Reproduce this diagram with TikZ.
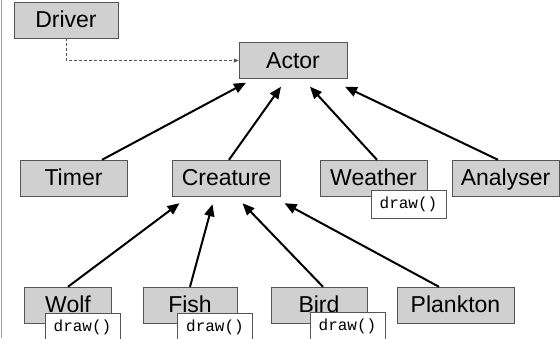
\documentclass[tikz,border=0pt]{standalone}
\usepackage{fontspec}
\setmainfont{Liberation Sans}
\setmonofont{Liberation Mono}
\usetikzlibrary{arrows.meta}
\definecolor{clsFill}{HTML}{D0D0D0}
\definecolor{clsEdge}{HTML}{555555}
\definecolor{frameGray}{HTML}{A0A0A0}

\begin{document}
\begin{tikzpicture}[x=1pt, y=-1pt,
    cls/.style={draw=clsEdge, fill=clsFill, minimum height=36pt, inner sep=0pt, text height=17pt, text depth=2pt, font=\fontsize{23}{26}\selectfont},
    meth/.style={draw=clsEdge, fill=white, minimum width=75pt, minimum height=28pt, inner sep=0pt, font=\ttfamily\fontsize{16}{18}\selectfont},
    inherit/.style={-{Triangle[length=12pt, width=10pt]}, line width=2pt},
    uses/.style={-{Triangle[length=5pt, width=4pt]}, dash pattern=on 3pt off 2pt, draw=clsEdge, line width=0.8pt}]
  \useasboundingbox (0,0) rectangle (560,338);
  \clip (0,0) rectangle (560,338);
  \draw[frameGray, line width=1.5pt] (1.5,0) -- (1.5,338);

  % classes
  \node[cls, minimum width=104pt] (driver) at (66,20) {Driver};
  \node[cls, minimum width=108pt] (actor) at (293,60.5) {Actor};
  \node[cls, minimum width=107pt] (timer) at (73.5,178) {Timer};
  \node[cls, minimum width=108pt] (creature) at (226.5,178) {Creature};
  \node[cls, minimum width=107pt] (weather) at (373.5,178) {Weather};
  \node[cls, minimum width=107pt] (analyser) at (505.5,178) {Analyser};
  \node[cls, minimum width=87pt] (wolf) at (68,305) {Wolf};
  \node[cls, minimum width=94pt] (fish) at (190,305) {Fish};
  \node[cls, minimum width=96pt] (bird) at (319,305) {Bird};
  \node[cls, minimum width=117pt] (plankton) at (455.5,305) {Plankton};

  % overridden methods
  \node[meth] (weatherdraw) at (408.5,204) {draw()};
  \node[meth] (wolfdraw) at (82.5,327) {draw()};
  \node[meth] (fishdraw) at (215,327) {draw()};
  \node[meth] (birddraw) at (347.5,326) {draw()};

  \draw[uses] (driver.south) |- (actor.west);

  \draw[inherit] ([xshift=28.5pt]timer.north) -- ([xshift=-47pt,yshift=-4pt]actor.south);
  \draw[inherit] ([xshift=2.5pt]creature.north) -- ([xshift=-12pt,yshift=-8pt]actor.south);
  \draw[inherit] ([xshift=3.5pt]weather.north) -- ([xshift=17pt,yshift=-8pt]actor.south);
  \draw[inherit] ([xshift=-7.5pt]analyser.north) -- ([xshift=52pt,yshift=-8pt]actor.south);

  \draw[inherit] (wolf.north) -- ([xshift=-47pt,yshift=-7pt]creature.south);
  \draw[inherit] (fish.north) -- ([xshift=-14pt,yshift=-8pt]creature.south);
  \draw[inherit] ([xshift=4pt]bird.north) -- ([xshift=16pt,yshift=-7pt]creature.south);
  \draw[inherit] ([xshift=-16.5pt]plankton.north) -- ([xshift=58pt,yshift=-7pt]creature.south);
\end{tikzpicture}
\end{document}
